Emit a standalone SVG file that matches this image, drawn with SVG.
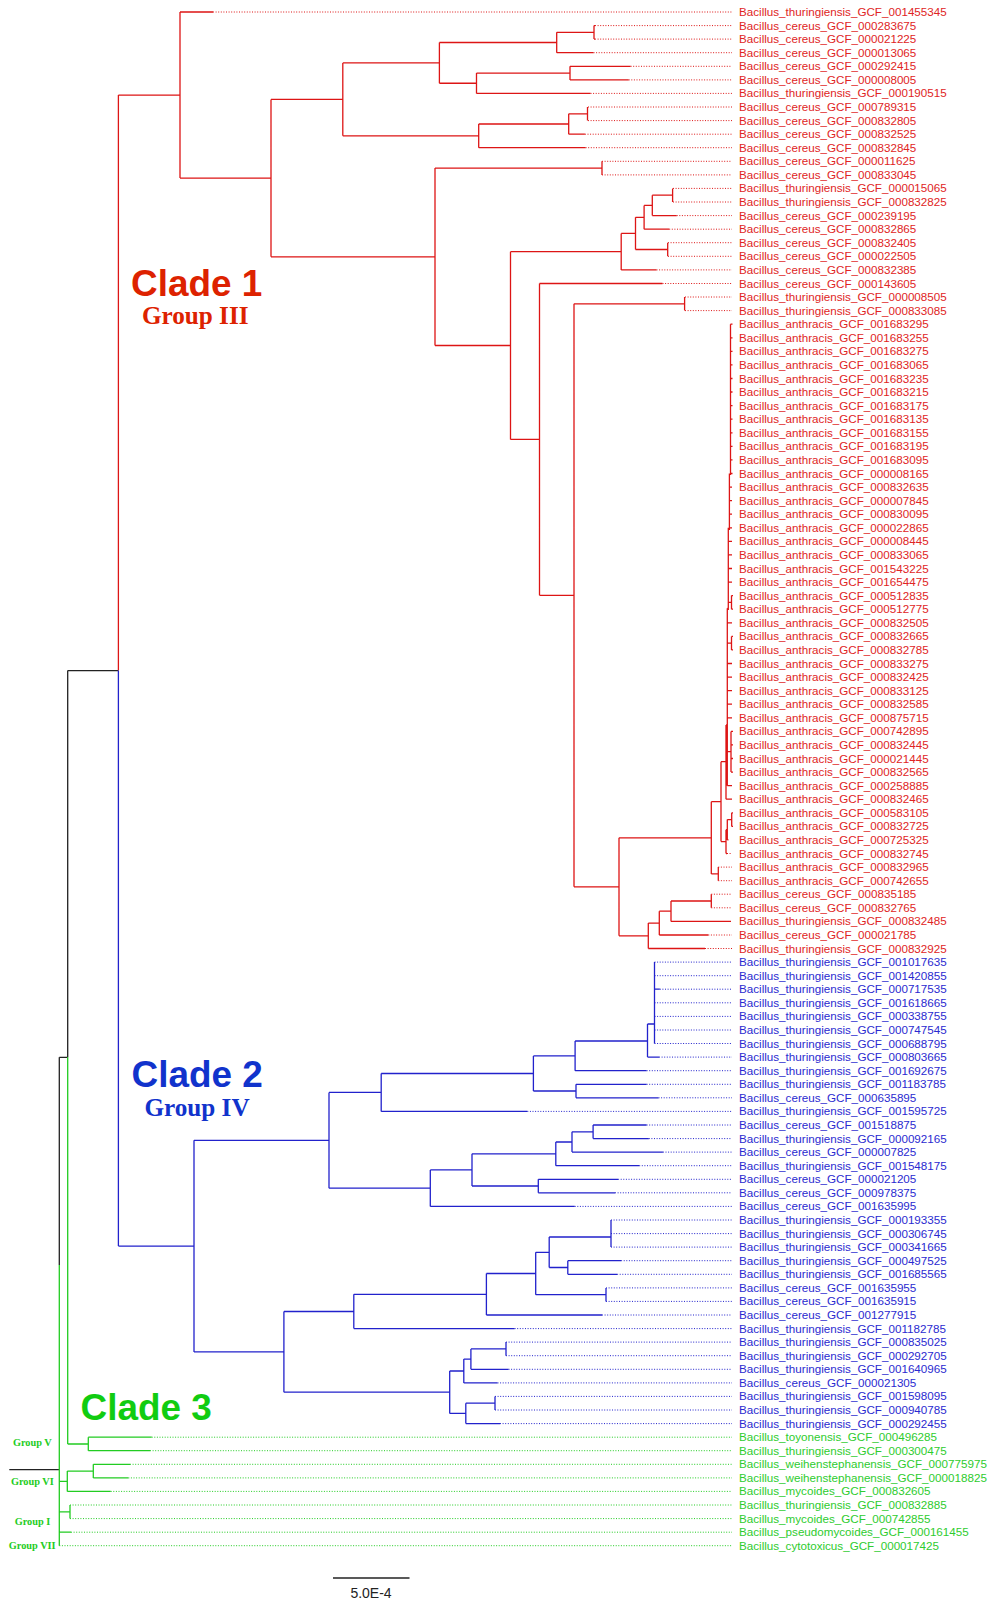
<svg xmlns="http://www.w3.org/2000/svg" width="988" height="1600" viewBox="0 0 988 1600">
<style>
.s{fill:none;stroke-width:1.3}
.d{fill:none;stroke-width:1;stroke-dasharray:1 1.6}
.r{stroke:#dd1515}.b{stroke:#2222cc}.g{stroke:#22cc22}.k{stroke:#222}
text{font-family:"Liberation Sans",Arial,sans-serif}
.l{font-size:11.65px}
.tr{fill:#e02424}.tb{fill:#2a2ad0}.tg{fill:#2ecc2e}
.cl{font-size:36.9px;font-weight:bold}
.gp{font-family:"Liberation Serif","Times New Roman",serif;font-weight:bold}
</style>
<rect width="988" height="1600" fill="#fff"/>
<g id="connectors">
<path class="s k" d="M67.7,670.6V1057.3 M67.7,670.6H118.4 M59.3,1057.3H67.7 M59.3,1057.3V1265 M9.3,1469.7H59.3"/>
<path class="s r" d="M118.4,95.05V670.6 M118.4,95.05H180
M180,12V178.1 M180,12H213 M180,178.1H271
M271,99.4V256.8 M271,99.4H342.8 M271,256.8H435
M342.8,62.9V135.85 M342.8,62.9H439.4 M342.8,135.85H478.7
M439.4,42.5V83.25 M439.4,42.5H556.7 M439.4,83.25H476.5
M556.7,32.35V52.7 M556.7,32.35H594 M556.7,52.7H593.5
M594,25.6V39.1 M594,25.6H595 M594,39.1H595
M476.5,73.1V93.4 M476.5,73.1H570 M476.5,93.4H590.5
M570,66.3V79.9 M570,66.3H630.6 M570,79.9H628.7
M478.7,124V147.7 M478.7,124H568.7 M478.7,147.7H585.6
M568.7,113.8V134.2 M568.7,113.8H587.5 M568.7,134.2H584.9
M587.5,107V120.6
M435,168.1V345.5 M435,168.1H602 M435,345.5H510.5
M602,161.3V174.9
M510.5,251.65V439.4 M510.5,251.65H621.2 M510.5,439.4H539.5
M621.2,233.4V269.9 M621.2,233.4H635.5 M621.2,269.9H656.5
M635.5,217.3V249.5 M635.5,217.3H644.1 M635.5,249.5H667.7
M644.1,205.4V229.2 M644.1,205.4H652.3 M644.1,229.2H669.2
M652.3,195.2V215.6 M652.3,195.2H672.6 M652.3,215.6H676.7
M672.6,188.4V202 M667.7,242.7V256.3
M539.5,283.5V595.3 M539.5,283.5H662.5 M539.5,595.3H574
M574,303.8V886.8 M574,303.8H684.6 M574,886.8H619
M684.6,297V310.6
M619,837.8V935.8 M619,837.8H711.3 M619,935.8H648.3
M711.3,801.65V873.9 M711.3,801.65H721 M711.3,873.9H718.3
M721,761.7V841.6 M721,761.7H726 M721,841.6H726
M726,829.75V853.5 M726,829.75H727.3 M726,853.5H727
M727.3,819.6V839.9 M727.3,819.6H731.7 M727.3,839.9H728.5
M731.7,812.8V826.4 M731.7,812.8H733 M731.7,826.4H733
M718.3,867.1V880.7
M648.3,923.1V948.5 M648.3,923.1H659.3 M648.3,948.5H705
M659.3,911.2V935 M659.3,911.2H671 M659.3,935H708.3
M671,901V921.4 M671,901H711.3 M671,921.4H731
M711.3,894.2V907.8
M726,725V799.2 M726,725H727.3 M726,799.2H732
M727.3,608.3V785.7 M727.3,622.8H732 M727.3,663.5H732 M727.3,677.1H732 M727.3,690.6H732 M727.3,704.2H732 M727.3,717.8H732 M727.3,785.7H732
M727.3,643.2H731.5 M731.5,636.4V649.9 M731.5,636.4H733 M731.5,649.9H733
M727.3,751.7H731 M731,731.4V772.1 M731,731.4H733 M731,744.9H733 M731,758.5H733 M731,772.1H733
M728.3,527.8V610 M728.3,608.3H727.3 M728.3,541.3H732 M728.3,554.9H732 M728.3,568.5H732 M728.3,582.1H732
M728.3,602.4H731.5 M731.5,595.6V609.2 M731.5,595.6H733 M731.5,609.2H733
M729.4,473.5V530 M729.4,487.1H732 M729.4,500.6H732 M729.4,514.2H732 M729.4,527.8H732
M730.5,324.2V475 M730.5,324.2H732.5 M730.5,337.8H732.5 M730.5,351.3H732.5 M730.5,364.9H732.5 M730.5,378.5H732.5 M730.5,392H732.5 M730.5,405.6H732.5 M730.5,419.2H732.5 M730.5,432.8H732.5 M730.5,446.3H732.5 M730.5,459.9H732.5 M730.5,473.5H732.5"/>
<path class="d r" d="M213,12H732 M595,25.6H732 M595,39.1H732 M593.5,52.7H732 M630.6,66.3H732 M628.7,79.9H732 M590.5,93.4H732 M588,107H732 M588,120.6H732 M584.9,134.2H732 M585.6,147.7H732 M602,161.3H732 M602,174.9H732 M673,188.4H732 M673,202H732 M676.7,215.6H732 M669.2,229.2H732 M668,242.7H732 M668,256.3H732 M656.5,269.9H732 M662.5,283.5H732 M685,297H732 M685,310.6H732 M727,853.5H732 M718.3,867.1H732 M718.3,880.7H732 M711.3,894.2H732 M711.3,907.8H732 M708.3,935H732 M705,948.5H732"/>
<path class="s b" d="M118.4,670.6V1246.1 M118.4,1246.1H194
M194,1140.3V1351.9 M194,1140.3H329 M194,1351.9H283.9
M329,1092.4V1188.2 M329,1092.4H381.2 M329,1188.2H430.3
M381.2,1073.5V1111.4 M381.2,1073.5H533.4 M381.2,1111.4H527.3
M533.4,1055.9V1091 M533.4,1055.9H575.1 M533.4,1091H576
M575.1,1041V1070.7 M575.1,1041H647.5 M575.1,1070.7H646.6
M647.5,1024V1057.1 M647.5,1024H654.5 M647.5,1057.1H659
M654.5,962.1V1043.5 M654.5,989.2H659.8
M576,1084.3V1097.8 M576,1084.3H646.6 M576,1097.8H658.5
M430.3,1169.9V1206.4 M430.3,1169.9H472 M430.3,1206.4H574.7
M472,1153.8V1186 M472,1153.8H555.8 M472,1186H538.3
M555.8,1142V1165.7 M555.8,1142H572 M555.8,1165.7H639.2
M572,1131.8V1152.1 M572,1131.8H593.1 M572,1152.1H662.9
M593.1,1125V1138.6 M593.1,1125H646.6 M593.1,1138.6H648.8
M538.3,1179.3V1192.8 M538.3,1179.3H618.1 M538.3,1192.8H615
M283.9,1311.5V1392.2 M283.9,1311.5H353.8 M283.9,1392.2H449.7
M353.8,1294.3V1328.6 M353.8,1294.3H486.4 M353.8,1328.6H514.6
M486.4,1273.5V1315 M486.4,1273.5H535.7 M486.4,1315H602
M535.7,1252.3V1294.7 M535.7,1252.3H549.2 M535.7,1294.7H606
M549.2,1237V1267.5 M549.2,1237H611 M549.2,1267.5H567.8
M611,1220V1247.1
M567.8,1260.7V1274.3 M567.8,1260.7H621.1 M567.8,1274.3H617.1
M606,1287.9V1301.4
M449.7,1371V1413.4 M449.7,1371H463.8 M449.7,1413.4H465.8
M463.8,1359.1V1382.9 M463.8,1359.1H470.9 M463.8,1382.9H497.5
M470.9,1348.9V1369.3 M470.9,1348.9H506 M470.9,1369.3H508.5
M506,1342.1V1355.7
M465.8,1403.2V1423.6 M465.8,1403.2H495 M465.8,1423.6H500
M495,1396.4V1410"/>
<path class="d b" d="M654.5,962.1H732 M654.5,975.7H732 M659.8,989.2H732 M654.5,1002.8H732 M654.5,1016.4H732 M654.5,1030H732 M654.5,1043.5H732 M659,1057.1H732 M646.6,1070.7H732 M646.6,1084.3H732 M658.5,1097.8H732 M527.3,1111.4H732 M646.6,1125H732 M648.8,1138.6H732 M662.9,1152.1H732 M639.2,1165.7H732 M618.1,1179.3H732 M615,1192.8H732 M574.7,1206.4H732 M611,1220H732 M611,1233.6H732 M611,1247.1H732 M621.1,1260.7H732 M617.1,1274.3H732 M606,1287.9H732 M606,1301.4H732 M602,1315H732 M514.6,1328.6H732 M506,1342.1H732 M506,1355.7H732 M508.5,1369.3H732 M497.5,1382.9H732 M495,1396.4H732 M495,1410H732 M500,1423.6H732"/>
<path class="s g" d="M67.7,1057.3V1444 M67.7,1444H88.3
M88.3,1437.2V1450.7 M88.3,1437.2H151.7 M88.3,1450.7H150
M59.3,1265V1545.7
M59.3,1481.3H67.3 M67.3,1471.1V1491.4 M67.3,1471.1H93.3 M67.3,1491.4H110.7
M93.3,1464.3V1477.9 M93.3,1464.3H130 M93.3,1477.9H128.3
M59.3,1511.8H70 M70,1505V1518.6
M59.3,1532.2H71"/>
<path class="d g" d="M151.7,1437.2H732 M150,1450.7H732 M130,1464.3H732 M128.3,1477.9H732 M110.7,1491.4H732 M70,1505H732 M70,1518.6H732 M71,1532.2H732 M59.3,1545.7H732"/>
</g>
<g id="scale">
<path class="s k" d="M333,1578H409.5"/>
<text x="371" y="1597.5" font-size="14" text-anchor="middle" fill="#222">5.0E-4</text>
</g>
<g id="clade-labels">
<text class="cl" x="131" y="295.7" fill="#dd2200">Clade 1</text>
<text class="gp" x="195.2" y="324" font-size="25.2" text-anchor="middle" fill="#dd2200">Group III</text>
<text class="cl" x="131.5" y="1086.7" fill="#1133cc">Clade 2</text>
<text class="gp" x="197" y="1116" font-size="25.2" text-anchor="middle" fill="#1133cc">Group IV</text>
<text class="cl" x="80.5" y="1420" fill="#11cc11">Clade 3</text>
<text class="gp" x="32.3" y="1445.7" font-size="10.3" text-anchor="middle" fill="#22cc22">Group V</text>
<text class="gp" x="32.3" y="1484.5" font-size="10.3" text-anchor="middle" fill="#22cc22">Group VI</text>
<text class="gp" x="32.5" y="1524.7" font-size="10.3" text-anchor="middle" fill="#22cc22">Group I</text>
<text class="gp" x="32.2" y="1548.7" font-size="10.3" text-anchor="middle" fill="#22cc22">Group VII</text>
</g>
<g id="leaves">
<g id="n001"><text class="l tr" x="739" y="16">Bacillus_thuringiensis_GCF_001455345</text></g>
<g id="n002"><text class="l tr" x="739" y="29.6">Bacillus_cereus_GCF_000283675</text></g>
<g id="n003"><text class="l tr" x="739" y="43.1">Bacillus_cereus_GCF_000021225</text></g>
<g id="n004"><text class="l tr" x="739" y="56.7">Bacillus_cereus_GCF_000013065</text></g>
<g id="n005"><text class="l tr" x="739" y="70.3">Bacillus_cereus_GCF_000292415</text></g>
<g id="n006"><text class="l tr" x="739" y="83.9">Bacillus_cereus_GCF_000008005</text></g>
<g id="n007"><text class="l tr" x="739" y="97.4">Bacillus_thuringiensis_GCF_000190515</text></g>
<g id="n008"><text class="l tr" x="739" y="111">Bacillus_cereus_GCF_000789315</text></g>
<g id="n009"><text class="l tr" x="739" y="124.6">Bacillus_cereus_GCF_000832805</text></g>
<g id="n010"><text class="l tr" x="739" y="138.2">Bacillus_cereus_GCF_000832525</text></g>
<g id="n011"><text class="l tr" x="739" y="151.7">Bacillus_cereus_GCF_000832845</text></g>
<g id="n012"><text class="l tr" x="739" y="165.3">Bacillus_cereus_GCF_000011625</text></g>
<g id="n013"><text class="l tr" x="739" y="178.9">Bacillus_cereus_GCF_000833045</text></g>
<g id="n014"><text class="l tr" x="739" y="192.4">Bacillus_thuringiensis_GCF_000015065</text></g>
<g id="n015"><text class="l tr" x="739" y="206">Bacillus_thuringiensis_GCF_000832825</text></g>
<g id="n016"><text class="l tr" x="739" y="219.6">Bacillus_cereus_GCF_000239195</text></g>
<g id="n017"><text class="l tr" x="739" y="233.2">Bacillus_cereus_GCF_000832865</text></g>
<g id="n018"><text class="l tr" x="739" y="246.7">Bacillus_cereus_GCF_000832405</text></g>
<g id="n019"><text class="l tr" x="739" y="260.3">Bacillus_cereus_GCF_000022505</text></g>
<g id="n020"><text class="l tr" x="739" y="273.9">Bacillus_cereus_GCF_000832385</text></g>
<g id="n021"><text class="l tr" x="739" y="287.5">Bacillus_cereus_GCF_000143605</text></g>
<g id="n022"><text class="l tr" x="739" y="301">Bacillus_thuringiensis_GCF_000008505</text></g>
<g id="n023"><text class="l tr" x="739" y="314.6">Bacillus_thuringiensis_GCF_000833085</text></g>
<g id="n024"><text class="l tr" x="739" y="328.2">Bacillus_anthracis_GCF_001683295</text></g>
<g id="n025"><text class="l tr" x="739" y="341.8">Bacillus_anthracis_GCF_001683255</text></g>
<g id="n026"><text class="l tr" x="739" y="355.3">Bacillus_anthracis_GCF_001683275</text></g>
<g id="n027"><text class="l tr" x="739" y="368.9">Bacillus_anthracis_GCF_001683065</text></g>
<g id="n028"><text class="l tr" x="739" y="382.5">Bacillus_anthracis_GCF_001683235</text></g>
<g id="n029"><text class="l tr" x="739" y="396">Bacillus_anthracis_GCF_001683215</text></g>
<g id="n030"><text class="l tr" x="739" y="409.6">Bacillus_anthracis_GCF_001683175</text></g>
<g id="n031"><text class="l tr" x="739" y="423.2">Bacillus_anthracis_GCF_001683135</text></g>
<g id="n032"><text class="l tr" x="739" y="436.8">Bacillus_anthracis_GCF_001683155</text></g>
<g id="n033"><text class="l tr" x="739" y="450.3">Bacillus_anthracis_GCF_001683195</text></g>
<g id="n034"><text class="l tr" x="739" y="463.9">Bacillus_anthracis_GCF_001683095</text></g>
<g id="n035"><text class="l tr" x="739" y="477.5">Bacillus_anthracis_GCF_000008165</text></g>
<g id="n036"><text class="l tr" x="739" y="491.1">Bacillus_anthracis_GCF_000832635</text></g>
<g id="n037"><text class="l tr" x="739" y="504.6">Bacillus_anthracis_GCF_000007845</text></g>
<g id="n038"><text class="l tr" x="739" y="518.2">Bacillus_anthracis_GCF_000830095</text></g>
<g id="n039"><text class="l tr" x="739" y="531.8">Bacillus_anthracis_GCF_000022865</text></g>
<g id="n040"><text class="l tr" x="739" y="545.3">Bacillus_anthracis_GCF_000008445</text></g>
<g id="n041"><text class="l tr" x="739" y="558.9">Bacillus_anthracis_GCF_000833065</text></g>
<g id="n042"><text class="l tr" x="739" y="572.5">Bacillus_anthracis_GCF_001543225</text></g>
<g id="n043"><text class="l tr" x="739" y="586.1">Bacillus_anthracis_GCF_001654475</text></g>
<g id="n044"><text class="l tr" x="739" y="599.6">Bacillus_anthracis_GCF_000512835</text></g>
<g id="n045"><text class="l tr" x="739" y="613.2">Bacillus_anthracis_GCF_000512775</text></g>
<g id="n046"><text class="l tr" x="739" y="626.8">Bacillus_anthracis_GCF_000832505</text></g>
<g id="n047"><text class="l tr" x="739" y="640.4">Bacillus_anthracis_GCF_000832665</text></g>
<g id="n048"><text class="l tr" x="739" y="653.9">Bacillus_anthracis_GCF_000832785</text></g>
<g id="n049"><text class="l tr" x="739" y="667.5">Bacillus_anthracis_GCF_000833275</text></g>
<g id="n050"><text class="l tr" x="739" y="681.1">Bacillus_anthracis_GCF_000832425</text></g>
<g id="n051"><text class="l tr" x="739" y="694.6">Bacillus_anthracis_GCF_000833125</text></g>
<g id="n052"><text class="l tr" x="739" y="708.2">Bacillus_anthracis_GCF_000832585</text></g>
<g id="n053"><text class="l tr" x="739" y="721.8">Bacillus_anthracis_GCF_000875715</text></g>
<g id="n054"><text class="l tr" x="739" y="735.4">Bacillus_anthracis_GCF_000742895</text></g>
<g id="n055"><text class="l tr" x="739" y="748.9">Bacillus_anthracis_GCF_000832445</text></g>
<g id="n056"><text class="l tr" x="739" y="762.5">Bacillus_anthracis_GCF_000021445</text></g>
<g id="n057"><text class="l tr" x="739" y="776.1">Bacillus_anthracis_GCF_000832565</text></g>
<g id="n058"><text class="l tr" x="739" y="789.7">Bacillus_anthracis_GCF_000258885</text></g>
<g id="n059"><text class="l tr" x="739" y="803.2">Bacillus_anthracis_GCF_000832465</text></g>
<g id="n060"><text class="l tr" x="739" y="816.8">Bacillus_anthracis_GCF_000583105</text></g>
<g id="n061"><text class="l tr" x="739" y="830.4">Bacillus_anthracis_GCF_000832725</text></g>
<g id="n062"><text class="l tr" x="739" y="843.9">Bacillus_anthracis_GCF_000725325</text></g>
<g id="n063"><text class="l tr" x="739" y="857.5">Bacillus_anthracis_GCF_000832745</text></g>
<g id="n064"><text class="l tr" x="739" y="871.1">Bacillus_anthracis_GCF_000832965</text></g>
<g id="n065"><text class="l tr" x="739" y="884.7">Bacillus_anthracis_GCF_000742655</text></g>
<g id="n066"><text class="l tr" x="739" y="898.2">Bacillus_cereus_GCF_000835185</text></g>
<g id="n067"><text class="l tr" x="739" y="911.8">Bacillus_cereus_GCF_000832765</text></g>
<g id="n068"><text class="l tr" x="739" y="925.4">Bacillus_thuringiensis_GCF_000832485</text></g>
<g id="n069"><text class="l tr" x="739" y="939">Bacillus_cereus_GCF_000021785</text></g>
<g id="n070"><text class="l tr" x="739" y="952.5">Bacillus_thuringiensis_GCF_000832925</text></g>
<g id="n071"><text class="l tb" x="739" y="966.1">Bacillus_thuringiensis_GCF_001017635</text></g>
<g id="n072"><text class="l tb" x="739" y="979.7">Bacillus_thuringiensis_GCF_001420855</text></g>
<g id="n073"><text class="l tb" x="739" y="993.2">Bacillus_thuringiensis_GCF_000717535</text></g>
<g id="n074"><text class="l tb" x="739" y="1006.8">Bacillus_thuringiensis_GCF_001618665</text></g>
<g id="n075"><text class="l tb" x="739" y="1020.4">Bacillus_thuringiensis_GCF_000338755</text></g>
<g id="n076"><text class="l tb" x="739" y="1034">Bacillus_thuringiensis_GCF_000747545</text></g>
<g id="n077"><text class="l tb" x="739" y="1047.5">Bacillus_thuringiensis_GCF_000688795</text></g>
<g id="n078"><text class="l tb" x="739" y="1061.1">Bacillus_thuringiensis_GCF_000803665</text></g>
<g id="n079"><text class="l tb" x="739" y="1074.7">Bacillus_thuringiensis_GCF_001692675</text></g>
<g id="n080"><text class="l tb" x="739" y="1088.3">Bacillus_thuringiensis_GCF_001183785</text></g>
<g id="n081"><text class="l tb" x="739" y="1101.8">Bacillus_cereus_GCF_000635895</text></g>
<g id="n082"><text class="l tb" x="739" y="1115.4">Bacillus_thuringiensis_GCF_001595725</text></g>
<g id="n083"><text class="l tb" x="739" y="1129">Bacillus_cereus_GCF_001518875</text></g>
<g id="n084"><text class="l tb" x="739" y="1142.6">Bacillus_thuringiensis_GCF_000092165</text></g>
<g id="n085"><text class="l tb" x="739" y="1156.1">Bacillus_cereus_GCF_000007825</text></g>
<g id="n086"><text class="l tb" x="739" y="1169.7">Bacillus_thuringiensis_GCF_001548175</text></g>
<g id="n087"><text class="l tb" x="739" y="1183.3">Bacillus_cereus_GCF_000021205</text></g>
<g id="n088"><text class="l tb" x="739" y="1196.8">Bacillus_cereus_GCF_000978375</text></g>
<g id="n089"><text class="l tb" x="739" y="1210.4">Bacillus_cereus_GCF_001635995</text></g>
<g id="n090"><text class="l tb" x="739" y="1224">Bacillus_thuringiensis_GCF_000193355</text></g>
<g id="n091"><text class="l tb" x="739" y="1237.6">Bacillus_thuringiensis_GCF_000306745</text></g>
<g id="n092"><text class="l tb" x="739" y="1251.1">Bacillus_thuringiensis_GCF_000341665</text></g>
<g id="n093"><text class="l tb" x="739" y="1264.7">Bacillus_thuringiensis_GCF_000497525</text></g>
<g id="n094"><text class="l tb" x="739" y="1278.3">Bacillus_thuringiensis_GCF_001685565</text></g>
<g id="n095"><text class="l tb" x="739" y="1291.9">Bacillus_cereus_GCF_001635955</text></g>
<g id="n096"><text class="l tb" x="739" y="1305.4">Bacillus_cereus_GCF_001635915</text></g>
<g id="n097"><text class="l tb" x="739" y="1319">Bacillus_cereus_GCF_001277915</text></g>
<g id="n098"><text class="l tb" x="739" y="1332.6">Bacillus_thuringiensis_GCF_001182785</text></g>
<g id="n099"><text class="l tb" x="739" y="1346.1">Bacillus_thuringiensis_GCF_000835025</text></g>
<g id="n100"><text class="l tb" x="739" y="1359.7">Bacillus_thuringiensis_GCF_000292705</text></g>
<g id="n101"><text class="l tb" x="739" y="1373.3">Bacillus_thuringiensis_GCF_001640965</text></g>
<g id="n102"><text class="l tb" x="739" y="1386.9">Bacillus_cereus_GCF_000021305</text></g>
<g id="n103"><text class="l tb" x="739" y="1400.4">Bacillus_thuringiensis_GCF_001598095</text></g>
<g id="n104"><text class="l tb" x="739" y="1414">Bacillus_thuringiensis_GCF_000940785</text></g>
<g id="n105"><text class="l tb" x="739" y="1427.6">Bacillus_thuringiensis_GCF_000292455</text></g>
<g id="n106"><text class="l tg" x="739" y="1441.2">Bacillus_toyonensis_GCF_000496285</text></g>
<g id="n107"><text class="l tg" x="739" y="1454.7">Bacillus_thuringiensis_GCF_000300475</text></g>
<g id="n108"><text class="l tg" x="739" y="1468.3">Bacillus_weihenstephanensis_GCF_000775975</text></g>
<g id="n109"><text class="l tg" x="739" y="1481.9">Bacillus_weihenstephanensis_GCF_000018825</text></g>
<g id="n110"><text class="l tg" x="739" y="1495.4">Bacillus_mycoides_GCF_000832605</text></g>
<g id="n111"><text class="l tg" x="739" y="1509">Bacillus_thuringiensis_GCF_000832885</text></g>
<g id="n112"><text class="l tg" x="739" y="1522.6">Bacillus_mycoides_GCF_000742855</text></g>
<g id="n113"><text class="l tg" x="739" y="1536.2">Bacillus_pseudomycoides_GCF_000161455</text></g>
<g id="n114"><text class="l tg" x="739" y="1549.7">Bacillus_cytotoxicus_GCF_000017425</text></g>
</g>
</svg>
